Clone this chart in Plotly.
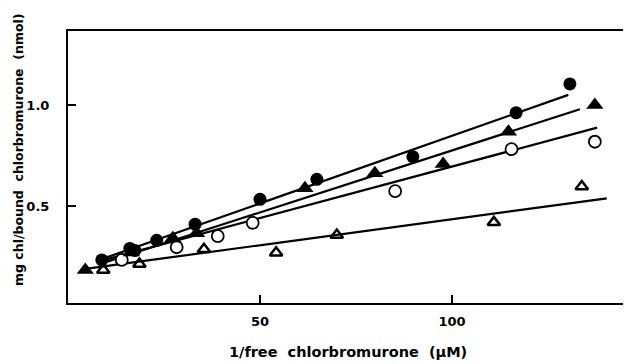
import plotly.graph_objects as go

# Data
filled_circle_x = [8.8, 16.1, 17.4, 23.1, 33.1, 50.0, 64.8, 89.8, 116.7, 130.7]
filled_circle_y = [0.233, 0.29, 0.28, 0.33, 0.41, 0.533, 0.632, 0.744, 0.962, 1.104]

filled_tri_x = [4.5, 16.5, 27.3, 33.5, 61.7, 79.9, 97.7, 114.7, 137.2]
filled_tri_y = [0.183, 0.27, 0.34, 0.365, 0.588, 0.662, 0.708, 0.868, 1.0]

open_circle_x = [14.0, 28.3, 39.0, 48.1, 85.2, 115.5, 137.2]
open_circle_y = [0.233, 0.296, 0.351, 0.417, 0.574, 0.781, 0.818]

open_tri_x = [9.2, 18.6, 35.4, 54.2, 70.0, 110.9, 133.8]
open_tri_y = [0.183, 0.213, 0.286, 0.269, 0.356, 0.419, 0.596]

# Fitted straight lines: endpoints
fit_circle_x = [8.0, 130.3]
fit_circle_y = [0.232, 1.050]
fit_tri_x = [8.0, 133.3]
fit_tri_y = [0.211, 0.979]
fit_open_circle_x = [10.0, 137.8]
fit_open_circle_y = [0.236, 0.888]
fit_open_tri_x = [4.5, 140.3]
fit_open_tri_y = [0.189, 0.538]

x_tick_vals = [50, 100]
x_tick_text = ["50", "100"]
y_tick_vals = [0.5, 1.0]
y_tick_text = ["0.5", "1.0"]

FONT = "DejaVu Sans"

# page is offset by the default 8px body margin; compensate in figure margins
OFF = 8
L, T, B_PAGE = 68 - OFF, 31 - OFF, 303 - OFF
H = 364
PW = 631 - L  # plot width in figure px (extends to figure right edge)
PH = B_PAGE - T


def px_x(page_x):
    return (page_x - OFF - L) / PW


def px_y(page_y):
    return (B_PAGE - (page_y - OFF)) / PH


fig = go.Figure()

for fx, fy in [(fit_circle_x, fit_circle_y), (fit_tri_x, fit_tri_y),
               (fit_open_circle_x, fit_open_circle_y), (fit_open_tri_x, fit_open_tri_y)]:
    fig.add_trace(go.Scatter(x=fx, y=fy, mode="lines",
                             line=dict(color="black", width=2.2),
                             showlegend=False, hoverinfo="skip"))

fig.add_trace(go.Scatter(x=open_tri_x, y=open_tri_y, mode="markers",
                         marker=dict(symbol="triangle-up-open", size=11, color="black",
                                     line=dict(width=2.5, color="black")),
                         showlegend=False))
fig.add_trace(go.Scatter(x=open_circle_x, y=open_circle_y, mode="markers",
                         marker=dict(symbol="circle", size=12, color="white",
                                     line=dict(width=1.8, color="black")),
                         showlegend=False))
fig.add_trace(go.Scatter(x=filled_tri_x, y=filled_tri_y, mode="markers",
                         marker=dict(symbol="triangle-up", size=15, color="black",
                                     line=dict(width=0)),
                         showlegend=False))
fig.add_trace(go.Scatter(x=filled_circle_x, y=filled_circle_y, mode="markers",
                         marker=dict(symbol="circle", size=13, color="black",
                                     line=dict(width=0)),
                         showlegend=False))

fig.update_layout(
    width=631, height=H,
    margin=dict(l=L, r=0, t=T, b=H - B_PAGE),
    paper_bgcolor="white", plot_bgcolor="white",
    font=dict(family=FONT, color="black"),
    xaxis=dict(range=[0, PW / 3.84], showgrid=False, zeroline=False,
               showline=True, linecolor="black", linewidth=2, mirror=True,
               ticks="inside", ticklen=8, tickwidth=1.5, tickcolor="black",
               tickvals=x_tick_vals, ticktext=x_tick_text,
               tickfont=dict(size=13, family=FONT, weight="bold"), ticklabelstandoff=5),
    yaxis=dict(range=[0.02, 1.366], showgrid=False, zeroline=False,
               showline=True, linecolor="black", linewidth=2, mirror=False,
               ticks="inside", ticklen=8, tickwidth=1.5, tickcolor="black",
               tickvals=y_tick_vals, ticktext=y_tick_text,
               tickfont=dict(size=13, family=FONT, weight="bold"), ticklabelstandoff=14),
    annotations=[
        dict(text="1/free  chlorbromurone  (μM)", xref="paper", yref="paper",
             x=px_x(348), y=px_y(352), xanchor="center", yanchor="middle",
             showarrow=False, font=dict(size=14.5, family=FONT, weight="bold")),
        dict(text="mg chl/bound  chlorbromurone  (nmol)", xref="paper", yref="paper",
             x=px_x(18), y=px_y(150), xanchor="center", yanchor="middle",
             textangle=-90, showarrow=False, font=dict(size=12.5, family=FONT, weight="bold")),
    ],
)

fig.write_html("out.html")
